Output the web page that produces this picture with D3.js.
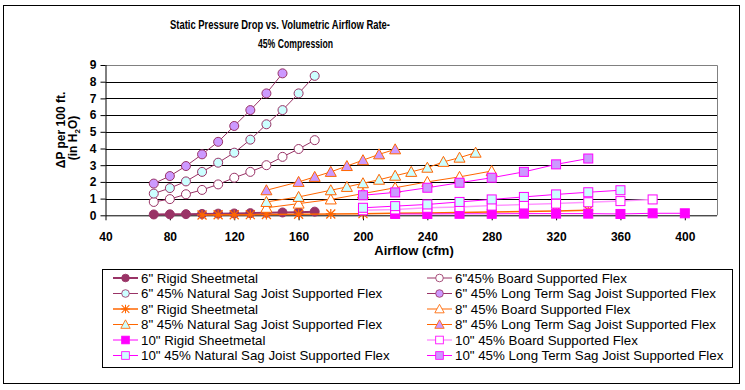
<!DOCTYPE html>
<html>
<head>
<meta charset="utf-8">
<script src="https://cdn.jsdelivr.net/npm/d3@7"></script>
<style>
  body { margin: 0; background: #fff; }
  svg { font-family: "Liberation Sans", Arial, sans-serif; }
</style>
</head>
<body>
<div id="chart"></div>
<script>
// airflow (cfm) for each series, and static pressure drop (in H2O per 100 ft)
const x6 = [70, 80, 90, 100, 110, 120, 130, 140, 150, 160, 170];
const rigid6 = [0.05, 0.06, 0.07, 0.08, 0.1, 0.11, 0.13, 0.15, 0.17, 0.19, 0.22];
const board6 = [0.8, 0.97, 1.26, 1.52, 1.85, 2.25, 2.6, 3.0, 3.5, 3.97, 4.5];
const natural6 = [1.3, 1.63, 2.03, 2.6, 3.15, 3.75, 4.53, 5.45, 6.3, 7.3, 8.35];
const xLong6 = [70, 80, 90, 100, 110, 120, 130, 140, 150];
const longTerm6 = [1.9, 2.35, 2.95, 3.65, 4.4, 5.35, 6.3, 7.3, 8.5];

const xRigid8 = [100, 110, 120, 130, 140, 160, 180, 200, 220, 240, 260, 280, 300, 320, 340];
const rigid8 = [0.02, 0.03, 0.03, 0.04, 0.05, 0.06, 0.08, 0.1, 0.12, 0.14, 0.17, 0.2, 0.23, 0.26, 0.3];
const xBoard8 = [140, 160, 180, 200, 220, 240, 260, 280];
const board8 = [0.45, 0.7, 0.95, 1.3, 1.65, 2.0, 2.3, 2.65];
const xNatural8 = [140, 160, 180, 190, 200, 210, 220, 230, 240, 250, 260, 270];
const natural8 = [0.8, 1.1, 1.5, 1.7, 1.92, 2.13, 2.37, 2.6, 2.85, 3.2, 3.45, 3.75];
const xLong8 = [140, 160, 170, 180, 190, 200, 210, 220];
const longTerm8 = [1.5, 2.0, 2.3, 2.6, 2.95, 3.3, 3.65, 3.95];

const xRigid10 = [220, 240, 260, 280, 300, 320, 340, 360, 380, 400];
const rigid10 = [0.08, 0.08, 0.09, 0.09, 0.1, 0.1, 0.1, 0.08, 0.12, 0.12];
const xBoard10 = [200, 220, 240, 260, 280, 300, 320, 340, 360, 380];
const board10 = [0.3, 0.35, 0.45, 0.5, 0.58, 0.65, 0.7, 0.78, 0.85, 0.95];
const xNatural10 = [200, 220, 240, 260, 280, 300, 320, 340, 360];
const natural10 = [0.45, 0.55, 0.65, 0.8, 0.95, 1.1, 1.25, 1.38, 1.5];
const xLong10 = [200, 220, 240, 260, 280, 300, 320, 340];
const longTerm10 = [1.2, 1.37, 1.65, 1.95, 2.25, 2.6, 3.05, 3.4];

const xTicks = [40, 80, 120, 160, 200, 240, 280, 320, 360, 400];
const yTicks = [0, 1, 2, 3, 4, 5, 6, 7, 8, 9];

const maroon = "#993366", orange = "#ff6600", magenta = "#ff00ff";
const cyan = "#ccffff", lilac = "#cc99ff";

// legend order (row by row, two columns) = drawing order
const series = [
  { name: '6" Rigid Sheetmetal', xs: x6, ys: rigid6, shape: "circle", line: maroon, fill: maroon, lw: 2 },
  { name: '6"45% Board Supported Flex', xs: x6, ys: board6, shape: "circle", line: maroon, fill: "#fff" },
  { name: '6" 45% Natural Sag Joist Supported Flex', xs: x6, ys: natural6, shape: "circle", line: maroon, fill: cyan },
  { name: '6" 45% Long Term Sag Joist Supported Flex', xs: xLong6, ys: longTerm6, shape: "circle", line: maroon, fill: lilac },
  { name: '8" Rigid Sheetmetal', xs: xRigid8, ys: rigid8, shape: "star", line: orange, fill: "none", lw: 1.5 },
  { name: '8" 45% Board Supported Flex', xs: xBoard8, ys: board8, shape: "triangle", line: orange, fill: "#fff" },
  { name: '8" 45% Natural Sag Joist Supported Flex', xs: xNatural8, ys: natural8, shape: "triangle", line: orange, fill: cyan },
  { name: '8" 45% Long Term Sag Joist Supported Flex', xs: xLong8, ys: longTerm8, shape: "triangle", line: orange, fill: lilac },
  { name: '10" Rigid Sheetmetal', xs: xRigid10, ys: rigid10, shape: "square", line: magenta, fill: magenta },
  { name: '10" 45% Board Supported Flex', xs: xBoard10, ys: board10, shape: "square", line: magenta, fill: "#fff", lineColor: "#ff99ff", lw: 1.5 },
  { name: '10" 45% Natural Sag Joist Supported Flex', xs: xNatural10, ys: natural10, shape: "square", line: magenta, fill: cyan },
  { name: '10" 45% Long Term Sag Joist Supported Flex', xs: xLong10, ys: longTerm10, shape: "square", line: magenta, fill: lilac }
];

const W = 745, H = 390;
const plotLeft = 105.5, plotRight = 717, plotTop = 65, plotBottom = 215.3;

const svg = d3.select("#chart").append("svg").attr("width", W).attr("height", H);

svg.append("rect").attr("x", 3.5).attr("y", 5.5).attr("width", 736).attr("height", 378)
  .attr("fill", "#fff").attr("stroke", "#000");

const x = d3.scaleLinear().domain([40, 420]).range([plotLeft, plotRight]);
const y = d3.scaleLinear().domain([0, 9]).range([plotBottom, plotTop]);

// title (narrow bold face in the original)
svg.append("text").attr("x", 280).attr("y", 29).attr("text-anchor", "middle")
  .attr("font-size", 13.5).attr("font-weight", "bold")
  .attr("textLength", 220).attr("lengthAdjust", "spacingAndGlyphs")
  .text("Static Pressure Drop vs. Volumetric Airflow Rate-");
svg.append("text").attr("x", 295.5).attr("y", 48).attr("text-anchor", "middle")
  .attr("font-size", 13.5).attr("font-weight", "bold")
  .attr("textLength", 75).attr("lengthAdjust", "spacingAndGlyphs")
  .text("45% Compression");

// gridlines
svg.append("g").selectAll("line").data(yTicks.slice(1, -1)).join("line")
  .attr("x1", plotLeft).attr("x2", plotRight)
  .attr("y1", d => Math.round(y(d)) + 0.5).attr("y2", d => Math.round(y(d)) + 0.5)
  .attr("stroke", "#000");
// plot border top/right
svg.append("path")
  .attr("d", `M${plotLeft},${Math.round(plotTop) + 0.5}H${plotRight + 0.5}V${plotBottom}`)
  .attr("fill", "none").attr("stroke", "#808080");

// axes
const yAxis = svg.append("g").attr("transform", `translate(${plotLeft},0)`)
  .call(d3.axisLeft(y).tickValues(yTicks).tickSize(5).tickPadding(4).tickFormat(d3.format("d")));
const xAxis = svg.append("g").attr("transform", `translate(0,${plotBottom})`)
  .call(d3.axisBottom(x).tickValues(xTicks).tickSize(5).tickPadding(12).tickFormat(d3.format("d")));
[xAxis, yAxis].forEach(g => {
  g.selectAll("line").attr("stroke", "#000");
  g.selectAll("text").attr("font-size", 12).attr("font-weight", "bold").attr("fill", "#000")
    .attr("font-family", "Liberation Sans, Arial, sans-serif");
});
xAxis.select("path.domain").attr("stroke", "#000").attr("d", `M${plotLeft},0.5H${plotRight}`);
yAxis.select("path.domain").attr("stroke", "#000").attr("d", `M0.5,${plotBottom}V${plotTop}`);

// axis titles
svg.append("text").attr("x", 414).attr("y", 255).attr("text-anchor", "middle")
  .attr("font-size", 13).attr("font-weight", "bold").text("Airflow (cfm)");
svg.append("text").attr("transform", "translate(65,130) rotate(-90)")
  .attr("text-anchor", "middle").attr("font-size", 12).attr("font-weight", "bold")
  .text("ΔP per 100 ft.");
const yt2 = svg.append("text").attr("transform", "translate(77,138) rotate(-90)")
  .attr("text-anchor", "middle").attr("font-size", 12).attr("font-weight", "bold");
yt2.append("tspan").text("(in H");
yt2.append("tspan").attr("font-size", 8).attr("dy", 3).text("2");
yt2.append("tspan").attr("dy", -3).text("O)");

// marker drawing
function marker(g, s) {
  if (s.shape === "circle") {
    g.append("circle").attr("r", 4.5).attr("fill", s.fill).attr("stroke", s.line);
  } else if (s.shape === "square") {
    g.append("rect").attr("x", -4.5).attr("y", -4.5).attr("width", 9).attr("height", 9)
      .attr("fill", s.fill).attr("stroke", s.line);
  } else if (s.shape === "triangle") {
    g.append("path").attr("d", "M0,-5.5L5.5,4.5L-5.5,4.5Z").attr("fill", s.fill).attr("stroke", s.line);
  } else {
    g.append("path").attr("d", "M0,-5V5M-4.5,-4.5L4.5,4.5M-4.5,4.5L4.5,-4.5M-5,0H5")
      .attr("fill", "none").attr("stroke", s.line).attr("stroke-width", 1.2);
  }
}

const lineGen = d3.line().x(d => x(d[0])).y(d => y(d[1]));
series.forEach(s => {
  const pts = s.xs.map((v, i) => [v, s.ys[i]]);
  const g = svg.append("g");
  g.append("path").datum(pts).attr("d", lineGen).attr("fill", "none")
    .attr("stroke", s.lineColor || s.line).attr("stroke-width", s.lw || 1);
  g.selectAll("g").data(pts).join("g")
    .attr("transform", d => `translate(${x(d[0])},${y(d[1])})`)
    .each(function () { marker(d3.select(this), s); });
});

// legend
svg.append("rect").attr("x", 102.5).attr("y", 269.5).attr("width", 630).attr("height", 98)
  .attr("fill", "#fff").attr("stroke", "#000");
const cols = [{ lx: 113, tx: 141 }, { lx: 427, tx: 455 }];
series.forEach((s, i) => {
  const c = cols[i % 2];
  const ly = 278 + Math.floor(i / 2) * 15.5;
  const g = svg.append("g");
  g.append("line").attr("x1", c.lx).attr("x2", c.lx + 25).attr("y1", ly).attr("y2", ly)
    .attr("stroke", s.lineColor || s.line).attr("stroke-width", s.lw || 1);
  const m = g.append("g");
  marker(m, s);
  m.attr("transform", `translate(${c.lx + 12.5},${ly}) scale(0.85)`);
  g.append("text").attr("x", c.tx).attr("y", ly + 4.5).attr("font-size", 13.3).text(s.name);
});
</script>
</body>
</html>
